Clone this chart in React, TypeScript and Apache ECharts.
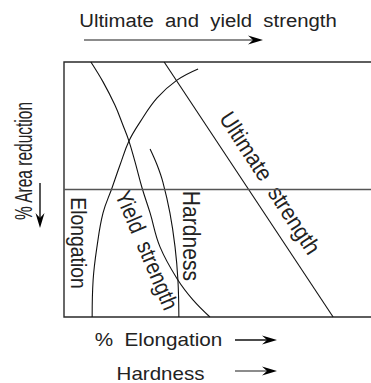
import React, { useEffect, useRef } from "react";
import * as echarts from "echarts";

// Curves (abstract 0–100 scales)
const elongationX = [8.8, 9.1, 10.3, 12.2, 15.0, 17.5, 20.3, 23.8, 29.1, 35.3, 41.9];
const elongationY = [0, 14.5, 27.5, 40.8, 50.6, 59.6, 69.0, 76.5, 85.9, 92.9, 97.3];

const yieldX = [8.4, 12.2, 15.9, 18.4, 20.3, 22.2, 24.4, 26.9, 30.0, 35.6, 40.3, 45.6];
const yieldY = [100, 92.2, 83.1, 75.3, 69.0, 60.8, 50.6, 40.8, 27.5, 14.5, 6.7, 0];

const hardnessX = [26.9, 29.1, 30.9, 33.1, 34.7, 35.6, 35.9];
const hardnessY = [65.9, 59.6, 52.9, 40.8, 27.5, 14.5, 0];

const ultimateX = [31.3, 84.1];
const ultimateY = [100, 0];

const dividerY = 50;

const zip = (xs: number[], ys: number[]) => xs.map((x, i) => [x, ys[i]]);

const FONT = "'Liberation Sans', Arial, Helvetica, sans-serif";
const TXT = "#222";

function arrowH(x1: number, x2: number, y: number, lineColor: string) {
  return [
    { type: "line", shape: { x1, y1: y, x2: x2 - 6, y2: y }, style: { stroke: lineColor, lineWidth: 1.4 } },
    {
      type: "polygon",
      shape: { points: [[x2, y], [x2 - 15, y - 4.5], [x2 - 10, y], [x2 - 15, y + 4.5]] },
      style: { fill: "#000" },
    },
  ];
}

function arrowV(x: number, y1: number, y2: number) {
  return [
    { type: "line", shape: { x1: x, y1, x2: x, y2: y2 - 6 }, style: { stroke: "#111", lineWidth: 1.4 } },
    {
      type: "polygon",
      shape: { points: [[x, y2], [x - 4.5, y2 - 15], [x, y2 - 10], [x + 4.5, y2 - 15]] },
      style: { fill: "#000" },
    },
  ];
}

function label(text: string, x: number, y: number, fontSize: number, rotation = 0, scaleX = 1, scaleY = 1) {
  return {
    type: "text",
    x,
    y,
    rotation,
    scaleX,
    scaleY,
    style: {
      text,
      fontSize,
      fontFamily: FONT,
      fill: TXT,
      align: "center",
      verticalAlign: "middle",
    },
  };
}

export default function App() {
  const ref = useRef<HTMLDivElement>(null);
  useEffect(() => {
    if (!ref.current) return;
    const chart = echarts.init(ref.current, undefined, { renderer: "svg" });
    const curve = (name: string, data: number[][], smooth: number | boolean) => ({
      name,
      type: "line",
      data,
      smooth,
      symbol: "none",
      lineStyle: { color: "#111", width: 1.1 },
      silent: true,
    });
    chart.setOption({
      animation: false,
      backgroundColor: "#fff",
      grid: {
        show: true,
        left: 64,
        top: 62,
        width: 320,
        height: 255,
        outerBoundsMode: "none",
        containLabel: false,
        borderColor: "#2a2a2a",
        borderWidth: 1.4,
        backgroundColor: "transparent",
      },
      xAxis: {
        type: "value",
        min: 0,
        max: 100,
        axisLine: { show: false },
        axisTick: { show: false },
        axisLabel: { show: false },
        splitLine: { show: false },
      },
      yAxis: {
        type: "value",
        min: 0,
        max: 100,
        axisLine: { show: false },
        axisTick: { show: false },
        axisLabel: { show: false },
        splitLine: { show: false },
      },
      series: [
        curve("Elongation", zip(elongationX, elongationY), 0.4),
        curve("Yield strength", zip(yieldX, yieldY), 0.4),
        curve("Hardness", zip(hardnessX, hardnessY), 0.4),
        curve("Ultimate strength", zip(ultimateX, ultimateY), false),
        {
          name: "divider",
          type: "line",
          data: [[0, dividerY], [100, dividerY]],
          symbol: "none",
          lineStyle: { color: "#555", width: 1.4 },
          silent: true,
        },
      ],
      graphic: [
        label("Ultimate  and  yield  strength", 208, 21, 18, 0, 1.13),
        ...arrowH(84, 263, 40, "#666"),
        label("% Area reduction", 24, 161, 16, Math.PI / 2, 0.97, 1.5),
        ...arrowV(40, 183, 228),
        label("%  Elongation", 158.5, 340, 18, 0, 1.15),
        ...arrowH(235, 277, 340, "#111"),
        label("Hardness", 160.5, 374, 18, 0, 1.14),
        ...arrowH(235, 277, 371, "#666"),
        label("Elongation", 79, 243, 19, -Math.PI / 2, 1.02, 1.2),
        label("Yield  strength", 147, 250, 20, (-67 * Math.PI) / 180, 1, 1.15),
        label("Hardness", 192, 236, 20.5, -Math.PI / 2, 1.03, 1.2),
        label("Ultimate  strength", 270, 183, 21, (-57 * Math.PI) / 180, 1, 1.1),
      ],
    });
    return () => chart.dispose();
  }, []);
  return (
    <div
      ref={ref}
      style={{ position: "absolute", left: 0, top: 0, width: 371, height: 383 }}
    />
  );
}
